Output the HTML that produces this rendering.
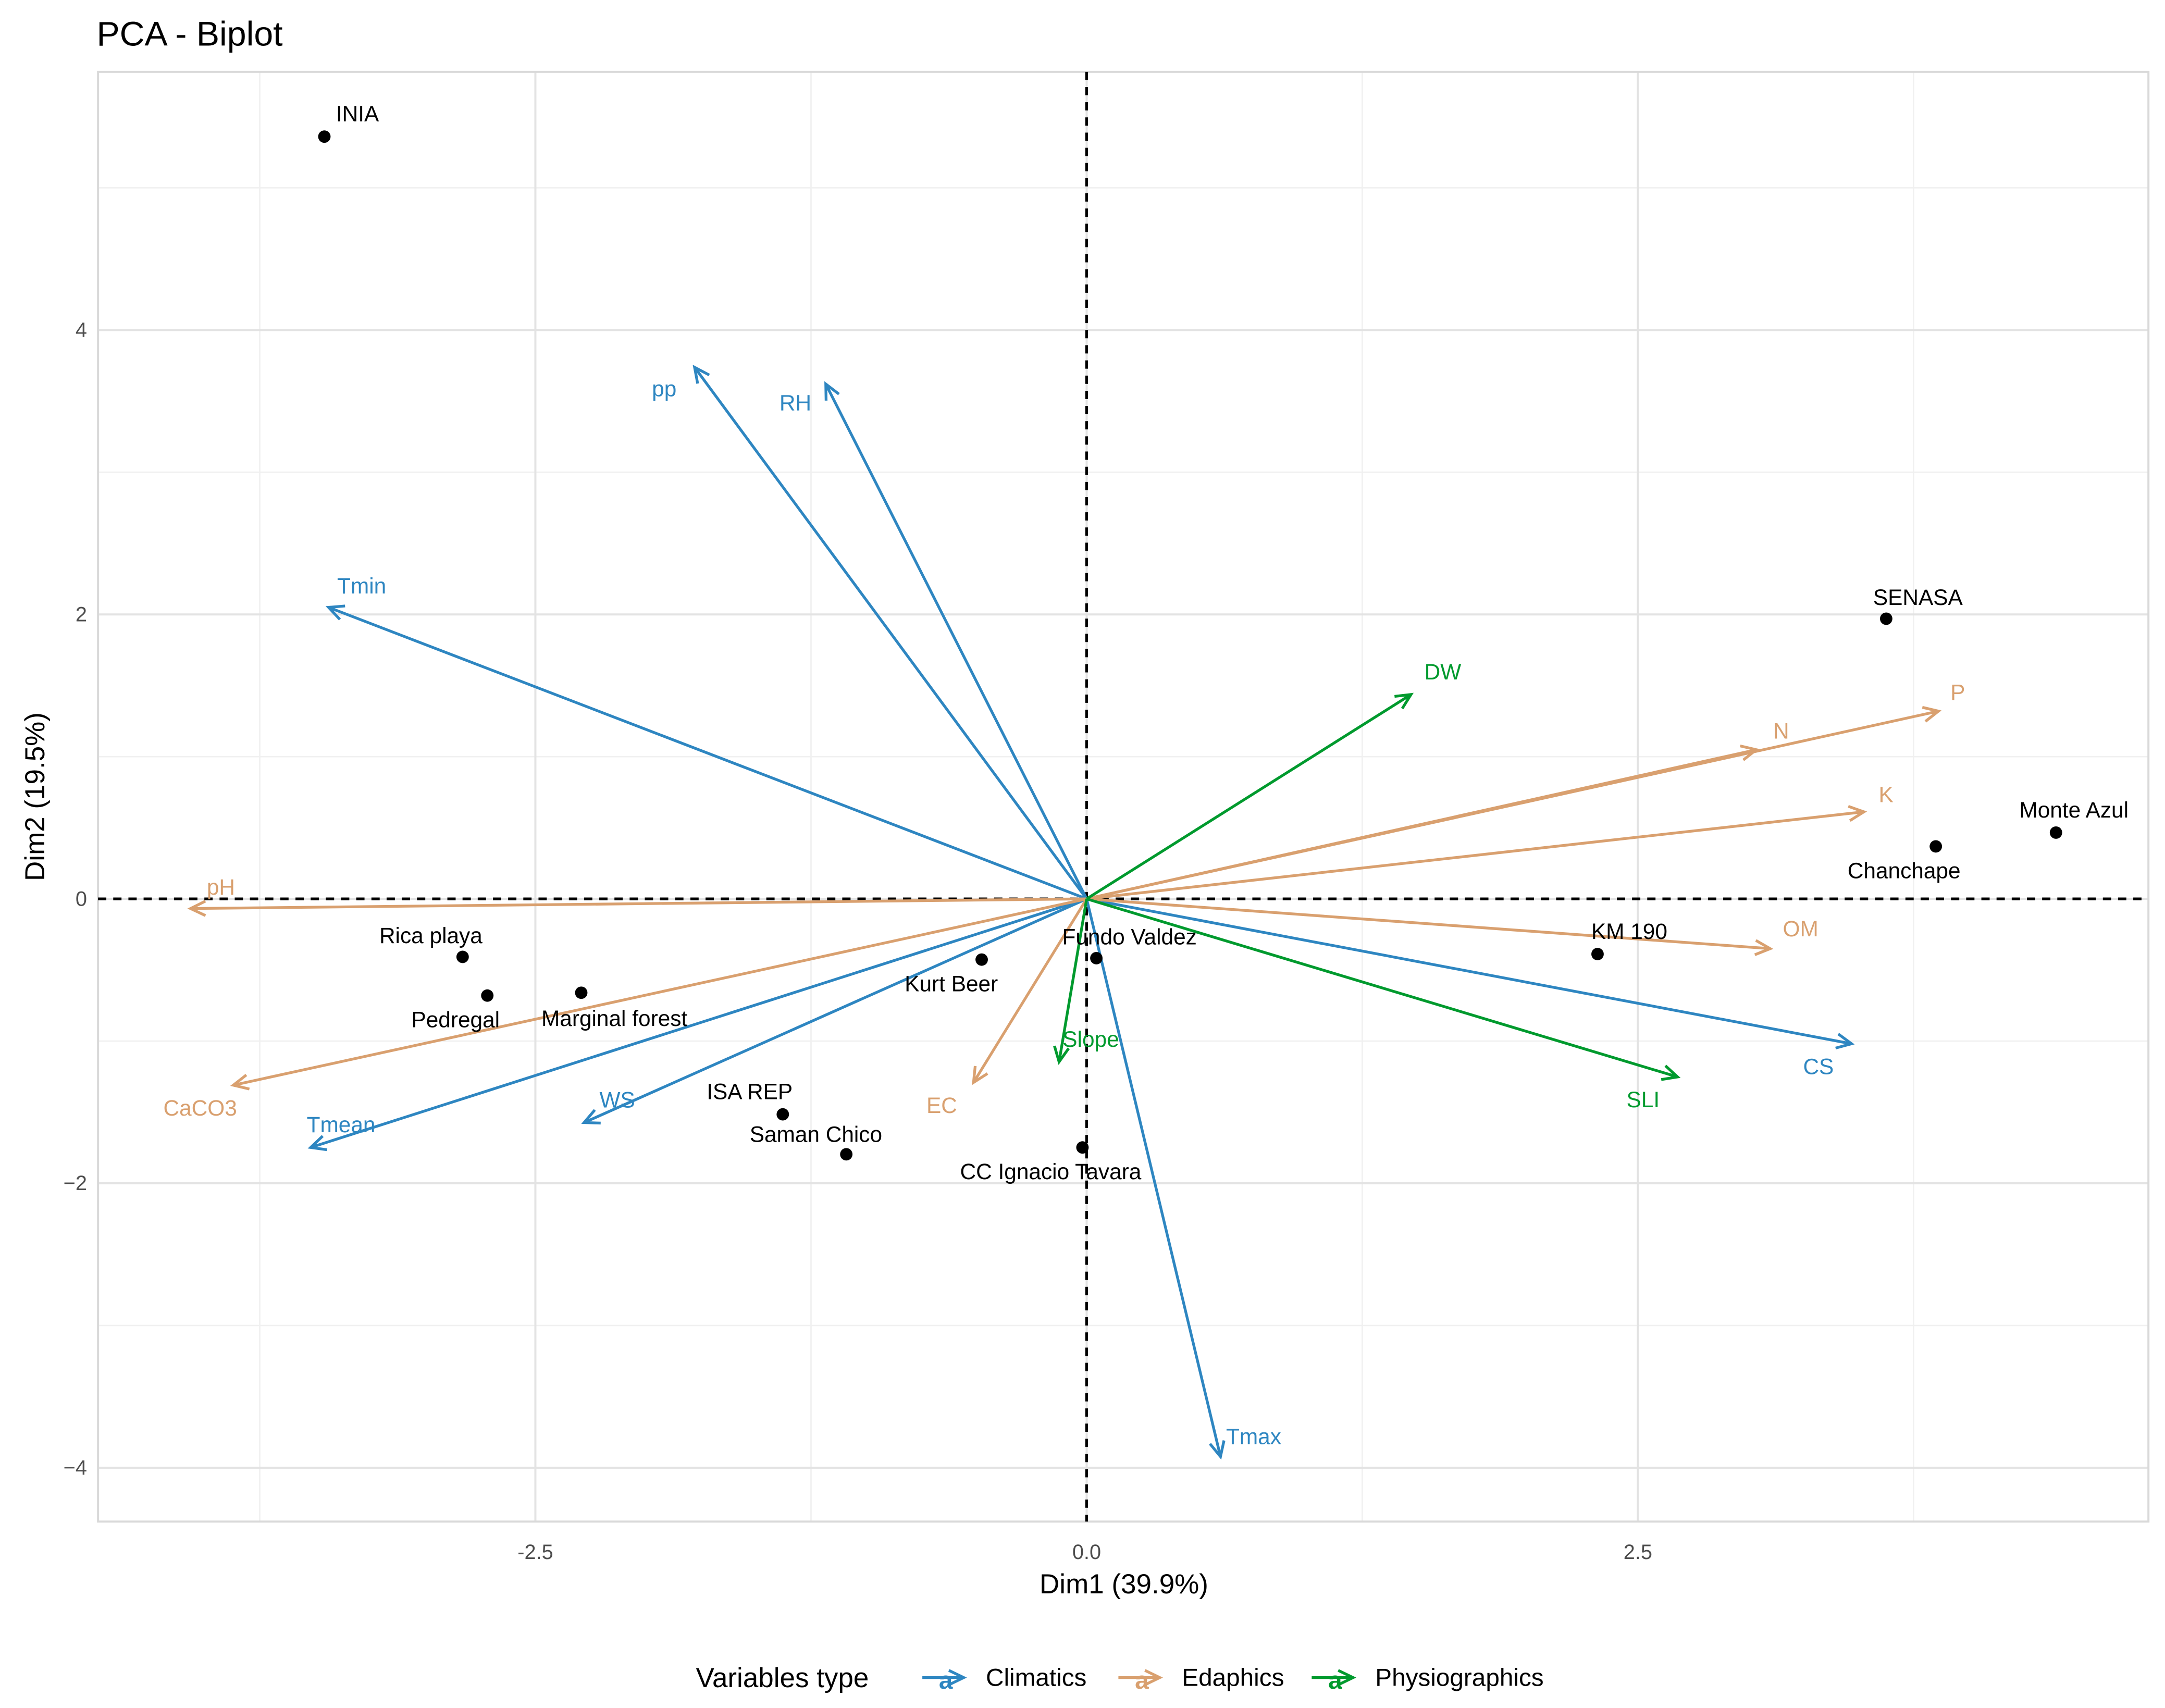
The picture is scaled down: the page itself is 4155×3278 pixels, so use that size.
<!DOCTYPE html>
<html><head><meta charset="utf-8"><style>html,body{margin:0;padding:0;background:#fff}svg{display:block}text{font-family:"Liberation Sans",sans-serif}</style></head>
<body>
<svg id="chart" width="4155" height="3278" viewBox="0 0 1568 1237" xmlns="http://www.w3.org/2000/svg">
<rect width="1568" height="1237" fill="#fff"/>
<g id="grid"></g>
<g id="axes"></g>
<g id="arrows"></g>
<g id="points"></g>
<text x="70" y="33" font-size="25" fill="#000">PCA - Biplot</text>
<text x="814" y="1154" font-size="20" text-anchor="middle" fill="#000">Dim1 (39.9%)</text>
<text transform="translate(32,577) rotate(-90)" font-size="20" text-anchor="middle" fill="#000">Dim2 (19.5%)</text>
<g id="legend">
<text x="504" y="1222" font-size="20" fill="#000">Variables type</text>
</g>
</svg>
<script>
const NS='http://www.w3.org/2000/svg';
const xTicks=[-2.5,0.0,2.5];
const xTickLabels=['-2.5','0.0','2.5'];
const yTicks=[-4,-2,0,2,4];
const yTickLabels=['\u22124','\u22122','0','2','4'];
const xMinor=[-3.75,-1.25,1.25,3.75];
const yMinor=[-3,-1,1,3,5];
const pointNames=['INIA','SENASA','Monte Azul','Chanchape','KM 190','Fundo Valdez','Kurt Beer','Rica playa','Pedregal','Marginal forest','ISA REP','Saman Chico','CC Ignacio Tavara'];
const pointX=[-3.457,3.626,4.396,3.851,2.317,0.044,-0.476,-2.83,-2.718,-2.292,-1.378,-1.09,-0.019];
const pointY=[5.36,1.97,0.466,0.369,-0.388,-0.417,-0.427,-0.408,-0.68,-0.66,-1.515,-1.796,-1.748];
const pointLabelDx=[24,23,13,-23,23,24,-22,-23,-23,24,-24,-22,-23];
const pointLabelDy=[-16,-15,-16,18,-16,-15,18,-15,18,19,-16,-14,18];
const varNames=['pp','RH','Tmin','Tmean','WS','Tmax','CS','pH','CaCO3','EC','OM','K','N','P','DW','Slope','SLI'];
const varGroup=['Climatics','Climatics','Climatics','Climatics','Climatics','Climatics','Climatics','Edaphics','Edaphics','Edaphics','Edaphics','Edaphics','Edaphics','Edaphics','Physiographics','Physiographics','Physiographics'];
const varX=[-1.778,-1.183,-3.438,-3.519,-2.279,0.607,3.469,-4.064,-3.87,-0.513,3.10,3.525,3.037,3.863,1.471,-0.125,2.68];
const varY=[3.738,3.62,2.05,-1.748,-1.573,-3.922,-1.019,-0.068,-1.31,-1.291,-0.35,0.612,1.049,1.32,1.437,-1.146,-1.252];
const varLabelDx=[-22,-22,24,22,24,24,-24,22,-24,-23,22,16,18,14,23,23,-25];
const varLabelDy=[16,14,-15,-16,-16,-14,17,-15,17,17,-14,-12,-13,-13,-16,-16,17];
const groups=['Climatics','Edaphics','Physiographics'];
const groupColors={'Climatics':'#2E86C1','Edaphics':'#D9A06F','Physiographics':'#009A2E'};
const X0=71,X1=1556,Y0=52,Y1=1102;
const sx=v=>787+v*159.7;
const sy=v=>651-v*103;
function mk(tag,attrs,parent){const e=document.createElementNS(NS,tag);for(const k in attrs)e.setAttribute(k,attrs[k]);parent.appendChild(e);return e;}
const grid=document.getElementById('grid'),axes=document.getElementById('axes'),arrows=document.getElementById('arrows'),points=document.getElementById('points'),legend=document.getElementById('legend');
xMinor.forEach(v=>{const l=mk('line',{x1:sx(v),x2:sx(v),y1:Y0,y2:Y1,stroke:'#f0f0f0','stroke-width':1},grid);

});
yMinor.forEach(v=>{const l=mk('line',{x1:X0,x2:X1,y1:sy(v),y2:sy(v),stroke:'#f0f0f0','stroke-width':1},grid);

});
xTicks.forEach((v,i)=>{const l=mk('line',{x1:sx(v),x2:sx(v),y1:Y0,y2:Y1,stroke:'#e3e3e3','stroke-width':1.5},grid);


const t=mk('text',{x:sx(v),y:Y1+27,'font-size':15,'text-anchor':'middle',fill:'#4d4d4d'},axes);t.textContent=xTickLabels[i];

});
yTicks.forEach((v,i)=>{const l=mk('line',{x1:X0,x2:X1,y1:sy(v),y2:sy(v),stroke:'#e3e3e3','stroke-width':1.5},grid);


const t=mk('text',{x:X0-8,y:sy(v)+5,'font-size':15,'text-anchor':'end',fill:'#4d4d4d'},axes);t.textContent=yTickLabels[i];

});
const fr=mk('rect',{x:X0,y:Y0,width:X1-X0,height:Y1-Y0,fill:'none',stroke:'#d9d9d9','stroke-width':1.5},grid);


const hz=mk('line',{x1:X0,x2:X1,y1:sy(0),y2:sy(0),stroke:'#000','stroke-width':2,'stroke-dasharray':'6,5'},axes);


const vz=mk('line',{x1:sx(0),x2:sx(0),y1:Y0,y2:Y1,stroke:'#000','stroke-width':2,'stroke-dasharray':'6,5'},axes);


function arrowHead(x1,y1,x2,y2,col,parent){const a=Math.atan2(y2-y1,x2-x1),L=12,w=0.45;
const d=`M${x2-L*Math.cos(a-w)},${y2-L*Math.sin(a-w)} L${x2},${y2} L${x2-L*Math.cos(a+w)},${y2-L*Math.sin(a+w)}`;
return mk('path',{d:d,fill:'none',stroke:col,'stroke-width':2},parent);}
varNames.forEach((n,i)=>{const col=groupColors[varGroup[i]];const g=mk('g',{},arrows);


const x2=sx(varX[i]),y2=sy(varY[i]);
mk('line',{x1:sx(0),y1:sy(0),x2:x2,y2:y2,stroke:col,'stroke-width':2},g);
arrowHead(sx(0),sy(0),x2,y2,col,g);
const t=mk('text',{x:x2+varLabelDx[i],y:y2+varLabelDy[i]+5,'font-size':16,'text-anchor':'middle',fill:col},g);t.textContent=n;

});
pointNames.forEach((n,i)=>{const g=mk('g',{},points);


const x=sx(pointX[i]),y=sy(pointY[i]);
mk('circle',{cx:x,cy:y,r:4.5,fill:'#000'},g);
const t=mk('text',{x:x+pointLabelDx[i],y:y+pointLabelDy[i]+5,'font-size':16,'text-anchor':'middle',fill:'#000'},g);t.textContent=n;

});
const legX=[668,810,950];
groups.forEach((gname,i)=>{const col=groupColors[gname];const g=mk('g',{},legend);


const x=legX[i],y=1215;
mk('line',{x1:x,y1:y,x2:x+30,y2:y,stroke:col,'stroke-width':2},g);
arrowHead(x,y,x+30,y,col,g);
const a=mk('text',{x:x+17,y:y+8,'font-size':18,'font-weight':'bold','text-anchor':'middle',fill:col},g);a.textContent='a';
const t=mk('text',{x:x+46,y:y+6,'font-size':18,fill:'#000'},g);t.textContent=gname;});
</script>
</body></html>
